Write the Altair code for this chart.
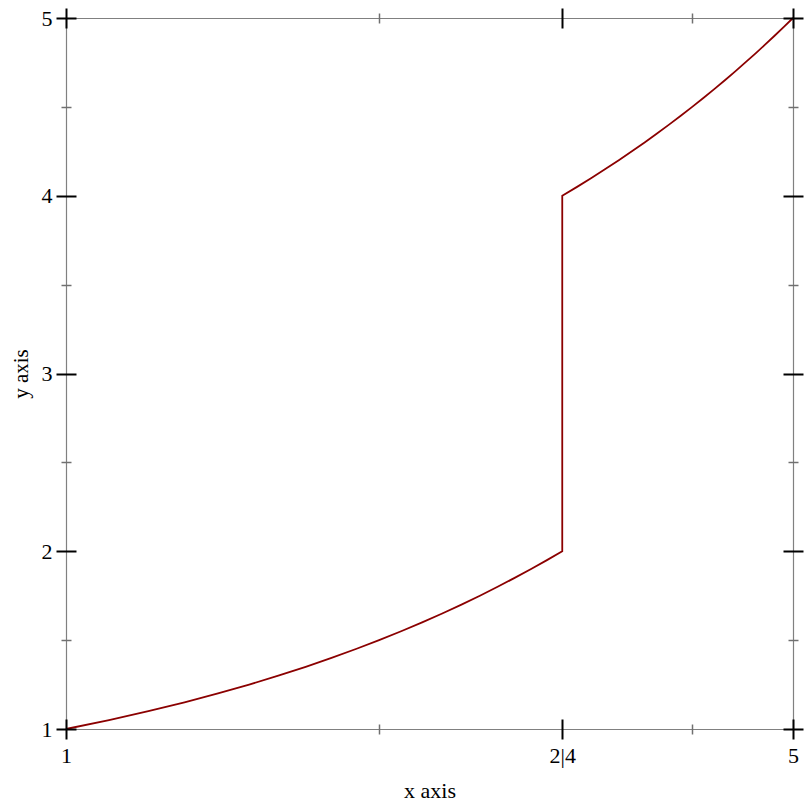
import altair as alt
import pandas as pd

# Points of the plotted function (y = x)
x_values = [1.0, 1.05, 1.1, 1.15, 1.2, 1.25, 1.3, 1.35, 1.4, 1.45, 1.5,
            1.55, 1.6, 1.65, 1.7, 1.75, 1.8, 1.85, 1.9, 1.95, 2.0,
            4.0, 4.05, 4.1, 4.15, 4.2, 4.25, 4.3, 4.35, 4.4, 4.45, 4.5,
            4.55, 4.6, 4.65, 4.7, 4.75, 4.8, 4.85, 4.9, 4.95, 5.0]
y_values = [1.0, 1.05, 1.1, 1.15, 1.2, 1.25, 1.3, 1.35, 1.4, 1.45, 1.5,
            1.55, 1.6, 1.65, 1.7, 1.75, 1.8, 1.85, 1.9, 1.95, 2.0,
            4.0, 4.05, 4.1, 4.15, 4.2, 4.25, 4.3, 4.35, 4.4, 4.45, 4.5,
            4.55, 4.6, 4.65, 4.7, 4.75, 4.8, 4.85, 4.9, 4.95, 5.0]

# x axis: collapse [2,4], then log. Tick positions in transformed units.
x_major = [1, 3, 5]          # 1, 2|4, 5
x_minor = [2, 4]             # 1.5, 4.5
x_label_expr = "datum.value == 1 ? '1' : (datum.value == 3 ? '2|4' : '5')"
y_major = [1, 2, 3, 4, 5]
y_minor = [1.5, 2.5, 3.5, 4.5]

FONT = "Liberation Serif"
FS = 22
FRAME = "#808080"
LINE = "#8B0000"

df = pd.DataFrame({"x": x_values, "y": y_values})

base = alt.Chart(df).transform_calculate(
    xt="datum.x <= 2 ? 2*datum.x - 1 : (datum.x >= 4 ? 2*datum.x - 5 : 3)"
)
xscale = alt.Scale(type="log", domain=[1, 5], nice=False)
yscale = alt.Scale(domain=[1, 5], nice=False, zero=False)


def tick_axis(orient, values, size, color, width):
    return alt.Axis(orient=orient, values=values, labels=False, domain=False,
                    grid=False, ticks=True, tickSize=size, offset=-size / 2,
                    tickColor=color, tickWidth=width, title=None, zindex=2)


def frame_axis(orient):
    return alt.Axis(orient=orient, labels=False, ticks=False, grid=False,
                    domain=True, domainColor=FRAME, domainWidth=1.2,
                    title=None, zindex=0)


line = base.mark_line(color=LINE, strokeWidth=1.8).encode(
    x=alt.X("xt:Q", scale=xscale, axis=alt.Axis(
        orient="bottom", values=x_major, labelExpr=x_label_expr,
        ticks=False, tickSize=0, grid=False, domain=True,
        domainColor=FRAME, domainWidth=1.2,
        labelPadding=33, labelBaseline="alphabetic", labelFlush=False,
        labelOverlap=False, labelBound=False,
        title="x axis", titleX=363.5, titleY=68, titleAlign="center",
        titleBaseline="alphabetic", zindex=0)),
    y=alt.Y("y:Q", scale=yscale, axis=alt.Axis(
        orient="left", values=y_major, format="d",
        ticks=False, tickSize=0, grid=False, domain=True,
        domainColor=FRAME, domainWidth=1.2,
        labelPadding=14, labelAlign="right", labelBaseline="middle",
        labelFlush=False, labelOverlap=False,
        title="y axis", titleAngle=270, titleX=-39, titleY=355.5,
        titleFontSize=21,
        titleAlign="center", titleBaseline="alphabetic", zindex=0)),
    order=alt.Order("x:Q"),
)


def ghost(xaxis, yaxis):
    return base.mark_line(opacity=0).encode(
        x=alt.X("xt:Q", scale=xscale, axis=xaxis),
        y=alt.Y("y:Q", scale=yscale, axis=yaxis),
        order=alt.Order("x:Q"),
    )


layers = [
    line,
    ghost(frame_axis("top"), frame_axis("right")),
    ghost(tick_axis("bottom", x_major, 20, "black", 2),
          tick_axis("left", y_major, 20, "black", 2)),
    ghost(tick_axis("bottom", x_minor, 10, "#707070", 1.5),
          tick_axis("left", y_minor, 10, "#707070", 1.5)),
    ghost(tick_axis("top", x_major, 20, "black", 2),
          tick_axis("right", y_major, 20, "black", 2)),
    ghost(tick_axis("top", x_minor, 10, "#707070", 1.5),
          tick_axis("right", y_minor, 10, "#707070", 1.5)),
]

chart = alt.layer(*layers).resolve_axis(
    x="independent", y="independent"
).properties(
    width=727, height=711,
    autosize=alt.AutoSizeParams(type="none"),
    padding={"left": 58, "top": 10, "right": 11, "bottom": 75},
).configure_view(
    stroke=None
).configure_axis(
    labelFont=FONT, labelFontSize=FS, labelColor="black",
    titleFont=FONT, titleFontSize=FS, titleColor="black",
    titleFontWeight="normal",
)

chart.save("out.html", embed_options={"renderer": "svg", "actions": False})
